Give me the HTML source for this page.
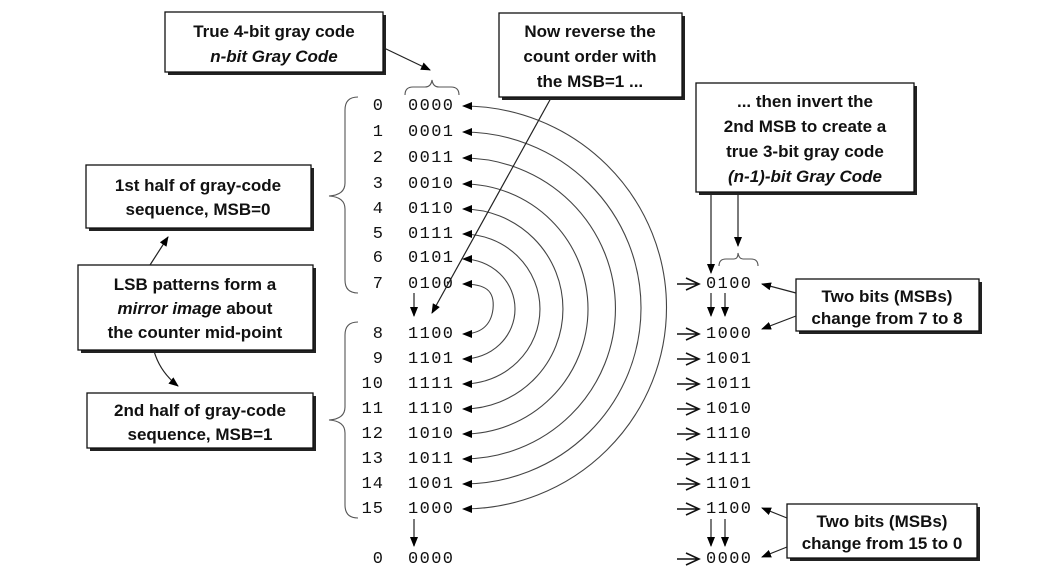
<!DOCTYPE html>
<html><head><meta charset="utf-8"><style>
html,body{margin:0;padding:0;background:#fff;width:1051px;height:584px;overflow:hidden}
svg{display:block}
.b{font-family:"Liberation Sans",sans-serif;font-weight:bold;font-size:17px;fill:#111;text-anchor:middle}
.m{font-family:"Liberation Mono",monospace;font-size:17px;fill:#111;letter-spacing:1.4px}
.n{font-family:"Liberation Mono",monospace;font-size:17px;fill:#111;text-anchor:end;letter-spacing:1px}
</style></head><body>
<svg width="1051" height="584" viewBox="0 0 1051 584" xmlns="http://www.w3.org/2000/svg">
<defs>
<marker id="a" markerWidth="10" markerHeight="8" refX="9" refY="4" orient="auto-start-reverse" markerUnits="userSpaceOnUse"><path d="M0,0 L10,4 L0,8 Z" fill="#000"/></marker>
</defs>
<g fill="#fff" stroke="#111" stroke-width="1.3">
<g fill="#222" stroke="none">
<rect x="168" y="15" width="218" height="60"/>
<rect x="502" y="16" width="183" height="84"/>
<rect x="699" y="86" width="218" height="109"/>
<rect x="89" y="168" width="225" height="63"/>
<rect x="81" y="268" width="235" height="85"/>
<rect x="90" y="396" width="226" height="55"/>
<rect x="799" y="282" width="183" height="52"/>
<rect x="790" y="507" width="190" height="54"/>
</g>
<rect x="165" y="12" width="218" height="60"/>
<rect x="499" y="13" width="183" height="84"/>
<rect x="696" y="83" width="218" height="109"/>
<rect x="86" y="165" width="225" height="63"/>
<rect x="78" y="265" width="235" height="85"/>
<rect x="87" y="393" width="226" height="55"/>
<rect x="796" y="279" width="183" height="52"/>
<rect x="787" y="504" width="190" height="54"/>
</g>
<text class="b" x="274" y="37">True 4-bit gray code</text>
<text class="b" x="274" y="62" font-style="italic">n-bit Gray Code</text>
<text class="b" x="590" y="37">Now reverse the</text>
<text class="b" x="590" y="62">count order with</text>
<text class="b" x="590" y="87">the MSB=1 ...</text>
<text class="b" x="805" y="107">... then invert the</text>
<text class="b" x="805" y="132">2nd MSB to create a</text>
<text class="b" x="805" y="157">true 3-bit gray code</text>
<text class="b" x="805" y="182" font-style="italic">(n-1)-bit Gray Code</text>
<text class="b" x="198" y="191">1st half of gray-code</text>
<text class="b" x="198" y="215">sequence, MSB=0</text>
<text class="b" x="195" y="290">LSB patterns form a</text>
<text class="b" x="195" y="314"><tspan font-style="italic">mirror image</tspan> about</text>
<text class="b" x="195" y="338">the counter mid-point</text>
<text class="b" x="200" y="416">2nd half of gray-code</text>
<text class="b" x="200" y="440">sequence, MSB=1</text>
<text class="b" x="887" y="302" font-size="16">Two bits (MSBs)</text>
<text class="b" x="887" y="324" font-size="16">change from 7 to 8</text>
<text class="b" x="882" y="527" font-size="16">Two bits (MSBs)</text>
<text class="b" x="882" y="549" font-size="16">change from 15 to 0</text>

<g>
<text class="n" x="384" y="110">0</text><text class="m" x="408" y="110">0000</text>
<text class="n" x="384" y="136">1</text><text class="m" x="408" y="136">0001</text>
<text class="n" x="384" y="162">2</text><text class="m" x="408" y="162">0011</text>
<text class="n" x="384" y="188">3</text><text class="m" x="408" y="188">0010</text>
<text class="n" x="384" y="213">4</text><text class="m" x="408" y="213">0110</text>
<text class="n" x="384" y="238">5</text><text class="m" x="408" y="238">0111</text>
<text class="n" x="384" y="262">6</text><text class="m" x="408" y="262">0101</text>
<text class="n" x="384" y="288">7</text><text class="m" x="408" y="288">0100</text>
<text class="n" x="384" y="338">8</text><text class="m" x="408" y="338">1100</text>
<text class="n" x="384" y="363">9</text><text class="m" x="408" y="363">1101</text>
<text class="n" x="384" y="388">10</text><text class="m" x="408" y="388">1111</text>
<text class="n" x="384" y="413">11</text><text class="m" x="408" y="413">1110</text>
<text class="n" x="384" y="438">12</text><text class="m" x="408" y="438">1010</text>
<text class="n" x="384" y="463">13</text><text class="m" x="408" y="463">1011</text>
<text class="n" x="384" y="488">14</text><text class="m" x="408" y="488">1001</text>
<text class="n" x="384" y="513">15</text><text class="m" x="408" y="513">1000</text>
<text class="n" x="384" y="563">0</text><text class="m" x="408" y="563">0000</text>
</g>
<g>
<text class="m" x="706" y="288">0100</text>
<text class="m" x="706" y="338">1000</text>
<text class="m" x="706" y="363">1001</text>
<text class="m" x="706" y="388">1011</text>
<text class="m" x="706" y="413">1010</text>
<text class="m" x="706" y="438">1110</text>
<text class="m" x="706" y="463">1111</text>
<text class="m" x="706" y="488">1101</text>
<text class="m" x="706" y="513">1100</text>
<text class="m" x="706" y="563">0000</text>
</g>
<g fill="none" stroke="#111" stroke-width="1.6">
<path d="M686,278 L699,284 L686,290 M677,284 L699,284"/>
<path d="M686,328 L699,334 L686,340 M677,334 L699,334"/>
<path d="M686,353 L699,359 L686,365 M677,359 L699,359"/>
<path d="M686,378 L699,384 L686,390 M677,384 L699,384"/>
<path d="M686,403 L699,409 L686,415 M677,409 L699,409"/>
<path d="M686,428 L699,434 L686,440 M677,434 L699,434"/>
<path d="M686,453 L699,459 L686,465 M677,459 L699,459"/>
<path d="M686,478 L699,484 L686,490 M677,484 L699,484"/>
<path d="M686,503 L699,509 L686,515 M677,509 L699,509"/>
<path d="M686,553 L699,559 L686,565 M677,559 L699,559"/>
</g>

<g fill="none" stroke="#444" stroke-width="1.1" marker-end="url(#a)" marker-start="url(#a)">
<path d="M463,284 C485,284 495,290 493,309 C491,326 480,334 463,334"/>
<path d="M463,259 A52,50 0 0 1 463,359"/>
<path d="M463,234 A77,75 0 0 1 463,384"/>
<path d="M463,209 A100,100 0 0 1 463,409"/>
<path d="M463,184 A125,125 0 0 1 463,434"/>
<path d="M463,158 A152,150 0 0 1 463,459"/>
<path d="M463,132 A177,175 0 0 1 463,484"/>
<path d="M463,106 A203,201 0 0 1 463,509"/>
</g>

<g fill="none" stroke="#222" stroke-width="1.2" marker-end="url(#a)">
<line x1="384" y1="48" x2="430" y2="70"/>
<line x1="551" y1="98" x2="432" y2="313"/>
<line x1="414" y1="293" x2="414" y2="316"/>
<line x1="414" y1="519" x2="414" y2="546"/>
<line x1="711" y1="293" x2="711" y2="316"/>
<line x1="725" y1="293" x2="725" y2="316"/>
<line x1="711" y1="519" x2="711" y2="546"/>
<line x1="725" y1="519" x2="725" y2="546"/>
<line x1="711" y1="193" x2="711" y2="273"/>
<line x1="738" y1="193" x2="738" y2="246"/>
<line x1="796" y1="293" x2="762" y2="284"/>
<line x1="796" y1="316" x2="762" y2="329"/>
<line x1="787" y1="518" x2="762" y2="508"/>
<line x1="787" y1="547" x2="762" y2="557"/>
<line x1="150" y1="265" x2="168" y2="237"/>
<path d="M154,351 Q160,372 178,386"/>
</g>

<g fill="none" stroke="#555" stroke-width="1.1">
<path d="M405,95 Q405,87 413,87 L425,87 Q431,87 432,80 Q433,87 439,87 L451,87 Q459,87 459,95"/>
<path d="M719,266 Q719,259 726,259 L734,259 Q738,259 738,253 Q739,259 743,259 L751,259 Q758,259 758,266"/>
<path d="M358,97 Q345,97 345,110 L345,183 Q345,195 329,196 Q345,197 345,209 L345,280 Q345,293 358,293"/>
<path d="M358,322 Q345,322 345,335 L345,407 Q345,419 329,420 Q345,421 345,433 L345,505 Q345,518 358,518"/>
</g>
</svg>
</body></html>
